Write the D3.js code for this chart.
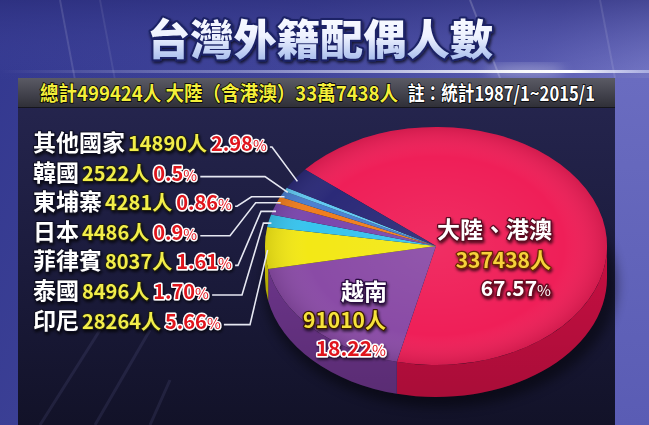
<!DOCTYPE html>
<html><head><meta charset="utf-8">
<script src="https://cdn.jsdelivr.net/npm/d3@7/dist/d3.min.js"></script>
<style>
html,body{margin:0;padding:0;background:#2a2c70;}
svg{display:block;}
</style></head>
<body>
<script>
// ---------- DATA ----------
const titleText = "台灣外籍配偶人數";
const subtitleYellow = "總計499424人 大陸（含港澳）33萬7438人";
const subtitleWhite = "註：統計1987/1~2015/1";
const categories = ["大陸、港澳","越南","印尼","泰國","菲律賓","日本","東埔寨","韓國","其他國家"];
const counts = [337438, 91010, 28264, 8496, 8037, 4486, 4281, 2522, 14890];
const percents = ["67.57","18.22","5.66","1.70","1.61","0.9","0.86","0.5","2.98"];
const unit = "人";
// legend rows (top to bottom) refer to category indices
const legendOrder = [8, 7, 6, 5, 4, 3, 2];

// ---------- STYLE / LAYOUT ----------
const W = 649, H = 425;
const topColors  = ["#ef1f58","#8a4ba6","#f3e816","#38c4ee","#7b47ad","#f07e1e","#4a7fd0","#62c9f2","#2b2a78"];
const sideColors = ["#c70f42","#6a3488","#c9bf05","#1e9cc4","#5c3290","#c8600e","#2e5eaa","#3ea6d0","#1b1a58"];
const cx = 436, cy = 246, rx = 171, ry = 119, depth = 32;
const startDeg = -50;
const font = "'Noto Sans CJK TC','Noto Sans CJK SC',sans-serif";
const leaderKnee = [272, 265, 236, 230, 238, 242, 250];
const leaderTail = [0, 0, 33, 25, 15, 8, 0];

const svg = d3.select("body").append("svg").attr("width", W).attr("height", H);
const defs = svg.append("defs");

function lin(id, x1,y1,x2,y2, stops){
  const g = defs.append("linearGradient").attr("id",id)
    .attr("x1",x1).attr("y1",y1).attr("x2",x2).attr("y2",y2);
  stops.forEach(s=>g.append("stop").attr("offset",s[0]).attr("stop-color",s[1]).attr("stop-opacity",s[2]===undefined?1:s[2]));
}
lin("bgG","0","0","1","0.3",[[0,"#33388f"],[0.45,"#3f4398"],[0.8,"#5a5cb0"],[1,"#7a7cc8"]]);
lin("bgTop","0","0","0","1",[[0,"#2a2c78",0.6],[1,"#4a4ea8",0]]);
lin("streak","0","0","1","0",[[0,"#ffffff",0],[0.35,"#dfe4ff",0.35],[0.8,"#ffffff",0.95],[0.88,"#ffffff",1],[1,"#dfe4ff",0.5]]);
lin("panelG","0","0","0","1",[[0,"#262650"],[0.5,"#1c1c3e"],[1,"#121228"]]);
lin("barG","0","0","0","1",[[0,"#5a5a64"],[0.5,"#44444e"],[1,"#2e2e36"]]);
lin("titleG","0","0","0","1",[[0,"#ffffff"],[0.5,"#eef2ff"],[1,"#94aee8"]]);
lin("rightG","0","0","0","1",[[0,"#6a6cc0"],[1,"#5a5cb4"]]);
const rg = defs.append("radialGradient").attr("id","shade").attr("cx","0.5").attr("cy","0.5").attr("r","0.5");
rg.append("stop").attr("offset",0).attr("stop-color","#fff").attr("stop-opacity",0.07);
rg.append("stop").attr("offset",0.75).attr("stop-color","#fff").attr("stop-opacity",0);
rg.append("stop").attr("offset",1).attr("stop-color","#000").attr("stop-opacity",0.12);
const sideShade = defs.append("linearGradient").attr("id","sideShade").attr("x1",0).attr("y1",0).attr("x2",0).attr("y2",1);
sideShade.append("stop").attr("offset",0).attr("stop-color","#000").attr("stop-opacity",0);
sideShade.append("stop").attr("offset",1).attr("stop-color","#000").attr("stop-opacity",0.15);
const blur = defs.append("filter").attr("id","blur").attr("x","-20%").attr("y","-20%").attr("width","140%").attr("height","140%");
blur.append("feGaussianBlur").attr("stdDeviation",6);
const ts = defs.append("filter").attr("id","tshadow").attr("x","-10%").attr("y","-20%").attr("width","120%").attr("height","150%");
ts.append("feDropShadow").attr("dx",1).attr("dy",2).attr("stdDeviation",1.5).attr("flood-color","#000").attr("flood-opacity",0.7);

// ---------- BACKGROUND ----------
svg.append("rect").attr("width",W).attr("height",H).attr("fill","url(#bgG)");
svg.append("rect").attr("width",W).attr("height",80).attr("fill","url(#bgTop)");
[[60,0,75,80,0.12],[100,0,115,80,0.08],[470,0,500,78,0.18],[600,0,615,78,0.1]].forEach(r=>{
  svg.append("line").attr("x1",r[0]).attr("y1",r[1]).attr("x2",r[2]).attr("y2",r[3])
    .attr("stroke","#fff").attr("stroke-opacity",r[4]).attr("stroke-width",2);
});
svg.append("rect").attr("x",0).attr("y",70).attr("width",W).attr("height",3).attr("fill","url(#streak)");
svg.append("ellipse").attr("cx",525).attr("cy",71).attr("rx",40).attr("ry",6).attr("fill","#fff").attr("opacity",0.35).attr("filter","url(#blur)");
svg.append("rect").attr("x",615).attr("y",78).attr("width",34).attr("height",H-78).attr("fill","url(#rightG)");
svg.append("rect").attr("x",18).attr("y",78).attr("width",597).attr("height",H-78).attr("fill","url(#panelG)");
[[40,425,100,330],[95,425,150,330],[150,425,170,380]].forEach(r=>{
  svg.append("line").attr("x1",r[0]).attr("y1",r[1]).attr("x2",r[2]).attr("y2",r[3])
    .attr("stroke","#8a8ad0").attr("stroke-opacity",0.12).attr("stroke-width",3);
});
svg.append("rect").attr("x",18).attr("y",78).attr("width",597).attr("height",30).attr("fill","url(#barG)");
svg.append("line").attr("x1",18).attr("x2",615).attr("y1",107.5).attr("y2",107.5).attr("stroke","#15151c").attr("stroke-width",1);

// ---------- TITLE ----------
svg.append("text").attr("x",320).attr("y",55)
  .attr("text-anchor","middle").attr("font-family",font).attr("font-weight",900)
  .attr("font-size",42).attr("textLength",346).attr("lengthAdjust","spacingAndGlyphs")
  .attr("fill","url(#titleG)").attr("stroke","#1d2466").attr("stroke-width",4)
  .attr("paint-order","stroke").attr("stroke-linejoin","round").attr("filter","url(#tshadow)")
  .text(titleText);

// ---------- SUBTITLE ----------
svg.append("text").attr("x",40).attr("y",101).attr("font-family",font).attr("font-weight",700)
  .attr("font-size",20).attr("textLength",358).attr("lengthAdjust","spacingAndGlyphs")
  .attr("fill","#f4ef3a").attr("stroke","#000").attr("stroke-width",1.5).attr("paint-order","stroke")
  .text(subtitleYellow);
svg.append("text").attr("x",408).attr("y",101).attr("font-family",font).attr("font-weight",700)
  .attr("font-size",20).attr("textLength",187).attr("lengthAdjust","spacingAndGlyphs")
  .attr("fill","#ffffff").attr("stroke","#000").attr("stroke-width",1.5).attr("paint-order","stroke")
  .text(subtitleWhite);

// ---------- PIE ----------
const pie = d3.pie().sort(null).value(d=>d)
  .startAngle(startDeg*Math.PI/180).endAngle(startDeg*Math.PI/180 + 2*Math.PI);
const arcs = pie(counts);
const arcGen = d3.arc().innerRadius(0).outerRadius(1);

svg.append("ellipse").attr("cx",cx+4).attr("cy",cy+depth+6).attr("rx",rx+6).attr("ry",ry+4)
  .attr("fill","#000").attr("opacity",0.45).attr("filter","url(#blur)");

const pg = svg.append("g").attr("transform",`translate(${cx},${cy}) scale(${rx},${ry})`);
const dUnit = depth/ry;
function sidePath(a0,a1){
  const p = d3.path();
  const s0 = a0 - Math.PI/2, s1 = a1 - Math.PI/2;
  p.moveTo(Math.cos(s0), Math.sin(s0));
  p.arc(0,0,1,s0,s1,false);
  p.lineTo(Math.cos(s1), Math.sin(s1)+dUnit);
  p.arc(0,dUnit,1,s1,s0,true);
  p.closePath();
  return p.toString();
}
arcs.forEach((a,i)=>{
  let a0 = Math.max(a.startAngle, Math.PI/2), a1 = Math.min(a.endAngle, 3*Math.PI/2);
  if (a1 > a0) {
    pg.append("path").attr("d", sidePath(a0,a1)).attr("fill", sideColors[i]);
    pg.append("path").attr("d", sidePath(a0,a1)).attr("fill", "url(#sideShade)");
  }
});
pg.selectAll("path.top").data(arcs).join("path").attr("class","top")
  .attr("d", arcGen).attr("fill",(d,i)=>topColors[i]);
pg.append("ellipse").attr("rx",1).attr("ry",1).attr("fill","url(#shade)");

// ---------- PIE LABELS ----------
function styled(sel, fill, stroke, sw){
  return sel.attr("font-family",font).attr("font-weight",700).attr("fill",fill)
    .attr("stroke",stroke).attr("stroke-width",sw).attr("paint-order","stroke").attr("stroke-linejoin","round");
}
function pctText(g, x, y, pct, size, fill, stroke, anchor){
  const t = styled(g.append("text").attr("x",x).attr("y",y).attr("text-anchor",anchor||"start").attr("font-size",size), fill, stroke, 3);
  t.append("tspan").text(pct);
  t.append("tspan").attr("font-size",size*0.72).attr("font-weight",400).text("%");
  return t;
}
const lg = svg.append("g").attr("filter","url(#tshadow)");
styled(lg.append("text").attr("x",552).attr("y",238).attr("text-anchor","end").attr("font-size",23),"#fff","#5a0a20",2.5).text(categories[0]);
styled(lg.append("text").attr("x",551).attr("y",268).attr("text-anchor","end").attr("font-size",21),"#f6d23a","#6a2a00",2.5).text(counts[0]+unit);
pctText(lg,551,296,percents[0],21,"#ffffff","#6a0a20","end");
styled(lg.append("text").attr("x",387).attr("y",300).attr("text-anchor","end").attr("font-size",23),"#fff","#2a0a40",2.5).text(categories[1]);
styled(lg.append("text").attr("x",386).attr("y",328).attr("text-anchor","end").attr("font-size",21),"#f6e23a","#3a1a00",2.5).text(counts[1]+unit);
pctText(lg,386,356,percents[1],21,"#e0141e","#ffffff","end");

// ---------- LEFT LEGEND + LEADERS ----------
const leg = svg.append("g");
const leaders = svg.append("g");
legendOrder.forEach((k,row)=>{
  const yc = 143 + row*29.6;
  const base = yc + 8;
  const t = leg.append("text").attr("x",33).attr("y",base).attr("font-family",font).attr("font-weight",700)
    .attr("paint-order","stroke").attr("stroke-linejoin","round").attr("filter","url(#tshadow)");
  t.append("tspan").attr("font-size",23).attr("fill","#ffffff").attr("stroke","#101020").attr("stroke-width",2).text(categories[k]);
  t.append("tspan").attr("dx",3).attr("font-size",20).attr("fill","#f2ee4a").attr("stroke","#202010").attr("stroke-width",2).text(counts[k]+unit);
  t.append("tspan").attr("dx",4).attr("font-size",20).attr("fill","#e0141e").attr("stroke","#ffffff").attr("stroke-width",3).text(percents[k]);
  t.append("tspan").attr("font-size",15).attr("font-weight",400).attr("fill","#e0141e").attr("stroke","#ffffff").attr("stroke-width",2.5).text("%");
  const bb = t.node().getBBox();
  const x0 = bb.x + bb.width + 3;
  const ly = yc + 4;
  const a = arcs[k];
  const m = (a.startAngle + a.endAngle)/2;
  const ex = cx + rx*0.985*Math.sin(m), ey = cy - ry*0.985*Math.cos(m) + 2;
  const knee = Math.max(leaderKnee[row], x0 + 2);
  let pts;
  if (ey >= ly - 2) {
    pts = [[x0,ly],[knee,ly],[ex,ey]];
  } else {
    pts = [[x0,ly],[knee,ly],[ex - leaderTail[row], ey],[ex,ey]];
  }
  leaders.append("path").attr("d", d3.line()(pts)).attr("fill","none")
    .attr("stroke","#e6e8f2").attr("stroke-width",1.6);
});
</script>
</body></html>
